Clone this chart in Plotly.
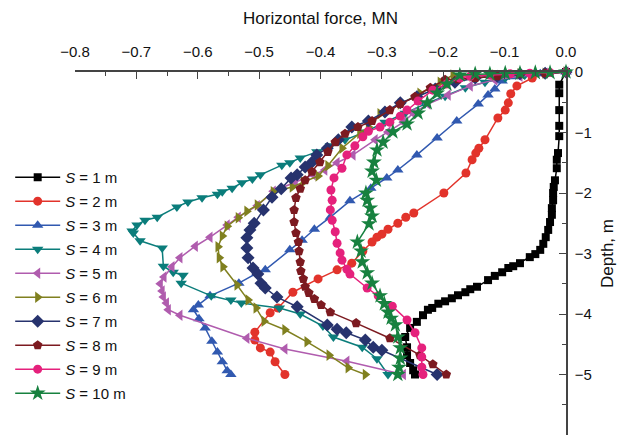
import plotly.graph_objects as go

# (horizontal force [MN], depth [m]) along the pile for each spacing S
S1 = [(0, 0), (-0.011, -0.21), (-0.011, -0.35), (-0.011, -0.63), (-0.011, -0.89), (-0.011, -1.06),
      (-0.013, -1.34), (-0.015, -1.45), (-0.015, -1.59), (-0.018, -1.79), (-0.020, -1.90), (-0.021, -2.00),
      (-0.021, -2.12), (-0.023, -2.25), (-0.023, -2.36), (-0.026, -2.48), (-0.029, -2.61), (-0.033, -2.73),
      (-0.037, -2.84), (-0.042, -2.94), (-0.050, -3.01), (-0.059, -3.06), (-0.075, -3.16), (-0.086, -3.21),
      (-0.094, -3.24), (-0.104, -3.31), (-0.116, -3.37), (-0.127, -3.44), (-0.145, -3.55), (-0.156, -3.59),
      (-0.164, -3.64), (-0.176, -3.69), (-0.186, -3.74), (-0.197, -3.79), (-0.208, -3.83), (-0.218, -3.90),
      (-0.225, -3.93), (-0.233, -4.02), (-0.243, -4.13), (-0.254, -4.23), (-0.262, -4.38), (-0.259, -4.55),
      (-0.259, -4.68), (-0.254, -4.81), (-0.249, -4.93), (-0.246, -5.00)]

S2 = [(0, 0), (-0.034, -0.03), (-0.055, -0.10), (-0.080, -0.23), (-0.090, -0.36), (-0.094, -0.51),
      (-0.099, -0.63), (-0.111, -0.76), (-0.132, -1.12), (-0.142, -1.26), (-0.147, -1.34), (-0.153, -1.45),
      (-0.163, -1.67), (-0.199, -2.00), (-0.248, -2.33), (-0.261, -2.40), (-0.274, -2.50), (-0.290, -2.60),
      (-0.300, -2.68), (-0.308, -2.73), (-0.316, -2.81), (-0.331, -2.96), (-0.349, -3.16), (-0.373, -3.27),
      (-0.404, -3.42), (-0.445, -3.64), (-0.469, -3.90), (-0.482, -3.98), (-0.507, -4.30), (-0.507, -4.43),
      (-0.498, -4.56), (-0.482, -4.63), (-0.474, -4.79), (-0.458, -5.00)]

S3 = [(0, 0), (-0.042, -0.03), (-0.083, -0.08), (-0.104, -0.15), (-0.116, -0.28), (-0.127, -0.38),
      (-0.143, -0.53), (-0.178, -0.81), (-0.210, -1.09), (-0.243, -1.37), (-0.274, -1.62), (-0.292, -1.75),
      (-0.318, -1.92), (-0.352, -2.13), (-0.384, -2.40), (-0.410, -2.60), (-0.430, -2.78), (-0.450, -2.94),
      (-0.490, -3.27), (-0.503, -3.32), (-0.533, -3.49), (-0.580, -3.70), (-0.599, -3.85), (-0.607, -3.93),
      (-0.598, -4.08), (-0.588, -4.23), (-0.577, -4.45), (-0.568, -4.63), (-0.560, -4.79), (-0.552, -4.94),
      (-0.546, -5.00)]

S4 = [(0, 0), (-0.034, -0.02), (-0.067, -0.05), (-0.099, -0.10), (-0.132, -0.17), (-0.164, -0.26),
      (-0.197, -0.40), (-0.230, -0.53), (-0.262, -0.68), (-0.295, -0.83), (-0.327, -0.99), (-0.360, -1.12),
      (-0.384, -1.22), (-0.406, -1.32), (-0.433, -1.42), (-0.450, -1.50), (-0.463, -1.54), (-0.498, -1.70),
      (-0.511, -1.77), (-0.528, -1.83), (-0.544, -1.92), (-0.560, -1.98), (-0.568, -2.02), (-0.593, -2.08),
      (-0.616, -2.15), (-0.634, -2.23), (-0.666, -2.40), (-0.686, -2.45), (-0.699, -2.53), (-0.707, -2.63),
      (-0.705, -2.66), (-0.694, -2.79), (-0.658, -2.91), (-0.656, -3.21), (-0.640, -3.31), (-0.624, -3.36),
      (-0.627, -3.49), (-0.578, -3.70), (-0.546, -3.77), (-0.529, -3.82), (-0.467, -3.90), (-0.433, -4.00),
      (-0.396, -4.20), (-0.379, -4.38), (-0.332, -4.55), (-0.308, -4.74), (-0.290, -5.00)]

S5 = [(0, 0), (-0.034, -0.02), (-0.075, -0.07), (-0.116, -0.13), (-0.156, -0.23), (-0.192, -0.38),
      (-0.225, -0.53), (-0.249, -0.68), (-0.265, -0.83), (-0.290, -0.99), (-0.311, -1.12), (-0.347, -1.37),
      (-0.373, -1.50), (-0.393, -1.62), (-0.412, -1.70), (-0.441, -1.82), (-0.477, -1.97), (-0.503, -2.21),
      (-0.534, -2.40), (-0.552, -2.53), (-0.580, -2.73), (-0.604, -2.88), (-0.629, -3.07), (-0.642, -3.22),
      (-0.655, -3.39), (-0.661, -3.50), (-0.658, -3.62), (-0.656, -3.72), (-0.651, -3.82), (-0.648, -3.93),
      (-0.629, -4.02), (-0.520, -4.40), (-0.458, -4.58), (-0.357, -4.78), (-0.265, -5.00)]

S6 = [(0, 0), (-0.034, -0.02), (-0.075, -0.03), (-0.116, -0.05), (-0.153, -0.07), (-0.184, -0.05),
      (-0.205, -0.17), (-0.238, -0.35), (-0.270, -0.53), (-0.303, -0.69), (-0.322, -0.91), (-0.336, -1.01),
      (-0.365, -1.26), (-0.388, -1.55), (-0.404, -1.72), (-0.428, -1.82), (-0.446, -1.90), (-0.477, -1.98),
      (-0.503, -2.20), (-0.520, -2.30), (-0.534, -2.41), (-0.552, -2.55), (-0.560, -2.71), (-0.567, -2.89),
      (-0.565, -3.07), (-0.559, -3.22), (-0.536, -3.52), (-0.518, -3.77), (-0.505, -3.90), (-0.492, -4.12),
      (-0.458, -4.26), (-0.422, -4.46), (-0.386, -4.68), (-0.355, -4.89), (-0.327, -5.00)]

S7 = [(0, 0), (-0.034, -0.02), (-0.075, -0.03), (-0.112, -0.07), (-0.148, -0.10), (-0.181, -0.17),
      (-0.213, -0.28), (-0.243, -0.41), (-0.270, -0.51), (-0.295, -0.66), (-0.322, -0.81), (-0.349, -0.91),
      (-0.371, -1.12), (-0.389, -1.26), (-0.406, -1.37), (-0.414, -1.49), (-0.425, -1.57), (-0.438, -1.70),
      (-0.448, -1.75), (-0.464, -1.93), (-0.479, -2.07), (-0.493, -2.28), (-0.508, -2.50), (-0.515, -2.61),
      (-0.520, -2.74), (-0.520, -2.91), (-0.518, -3.07), (-0.510, -3.24), (-0.502, -3.34), (-0.497, -3.49),
      (-0.490, -3.57), (-0.471, -3.72), (-0.438, -3.88), (-0.389, -4.18), (-0.373, -4.25), (-0.358, -4.31),
      (-0.327, -4.43), (-0.314, -4.55), (-0.300, -4.60), (-0.210, -5.00)]

S8 = [(0, 0), (-0.034, -0.02), (-0.075, -0.03), (-0.112, -0.07), (-0.148, -0.10), (-0.176, -0.12),
      (-0.197, -0.13), (-0.221, -0.26), (-0.246, -0.41), (-0.270, -0.53), (-0.287, -0.63), (-0.316, -0.81),
      (-0.339, -0.91), (-0.360, -1.02), (-0.376, -1.16), (-0.388, -1.32), (-0.401, -1.49), (-0.414, -1.65),
      (-0.425, -1.79), (-0.433, -1.93), (-0.440, -2.08), (-0.443, -2.28), (-0.443, -2.48), (-0.440, -2.66),
      (-0.436, -2.81), (-0.435, -2.96), (-0.433, -3.14), (-0.432, -3.29), (-0.428, -3.42), (-0.425, -3.55),
      (-0.419, -3.65), (-0.410, -3.75), (-0.399, -3.85), (-0.384, -3.97), (-0.342, -4.15), (-0.287, -4.40),
      (-0.238, -4.68), (-0.217, -4.83), (-0.195, -5.00)]

S9 = [(0, 0), (-0.026, -0.01), (-0.059, -0.02), (-0.091, -0.03), (-0.124, -0.05), (-0.156, -0.07),
      (-0.173, -0.10), (-0.195, -0.20), (-0.217, -0.30), (-0.241, -0.48), (-0.259, -0.63), (-0.270, -0.73),
      (-0.287, -0.83), (-0.303, -0.91), (-0.322, -0.98), (-0.331, -1.07), (-0.344, -1.22), (-0.357, -1.37),
      (-0.365, -1.59), (-0.378, -1.75), (-0.383, -1.95), (-0.381, -2.12), (-0.384, -2.28), (-0.381, -2.45),
      (-0.376, -2.64), (-0.373, -2.83), (-0.368, -2.99), (-0.365, -3.11), (-0.357, -3.26), (-0.352, -3.34),
      (-0.324, -3.57), (-0.306, -3.70), (-0.283, -3.87), (-0.259, -4.10), (-0.246, -4.31), (-0.235, -4.56),
      (-0.235, -4.71), (-0.235, -4.88), (-0.233, -5.00)]

S10 = [(0, 0), (-0.026, -0.01), (-0.050, -0.01), (-0.075, -0.02), (-0.099, -0.02), (-0.124, -0.03),
       (-0.148, -0.03), (-0.173, -0.05), (-0.194, -0.20), (-0.210, -0.35), (-0.226, -0.51), (-0.241, -0.68),
       (-0.259, -0.86), (-0.282, -0.99), (-0.298, -1.16), (-0.308, -1.29), (-0.313, -1.49), (-0.316, -1.64),
       (-0.309, -1.79), (-0.326, -2.00), (-0.324, -2.12), (-0.319, -2.25), (-0.316, -2.38), (-0.321, -2.51),
       (-0.340, -2.81), (-0.334, -2.96), (-0.332, -3.14), (-0.324, -3.32), (-0.316, -3.49), (-0.303, -3.70),
       (-0.296, -3.83), (-0.290, -3.97), (-0.285, -4.07), (-0.278, -4.18), (-0.274, -4.38), (-0.270, -4.56),
       (-0.270, -4.73), (-0.272, -4.88), (-0.274, -5.00)]

SERIES = [S1, S2, S3, S4, S5, S6, S7, S8, S9, S10]
SPACINGS = [1, 2, 3, 4, 5, 6, 7, 8, 9, 10]
COLORS = ["#000000", "#e2332b", "#3159b0", "#0b7d7b", "#b05cae",
          "#80801f", "#27336e", "#7c1a20", "#e5217c", "#17813f"]
SYMBOLS = ["square", "circle", "triangle-up", "triangle-down", "triangle-left",
           "triangle-right", "diamond", "pentagon", "circle", "star"]
SIZES = [8, 9, 10, 10, 10, 10, 10, 10, 9, 12]

FONT = "Liberation Sans, Arial, sans-serif"

fig = go.Figure()
for pts, s, col, sym, size in zip(SERIES, SPACINGS, COLORS, SYMBOLS, SIZES):
    fig.add_trace(go.Scatter(
        x=[p[0] for p in pts],
        y=[p[1] for p in pts],
        mode="lines+markers",
        name=f"<i>S</i> = {s} m",
        legendgroup=f"S{s}",
        line=dict(color=col, width=1.5),
        marker=dict(symbol=sym, size=size, color=col, line=dict(width=0)),
        cliponaxis=False,
    ))

fig.update_layout(
    width=630, height=441,
    margin=dict(l=75, r=64, t=72, b=6, autoexpand=False),
    paper_bgcolor="white",
    plot_bgcolor="white",
    font=dict(family=FONT, size=14, color="#111111"),
    showlegend=True,
    legend=dict(
        x=-0.132, y=0.755, xanchor="left", yanchor="top",
        traceorder="grouped", tracegroupgap=1.5,
        itemwidth=45,
        font=dict(family=FONT, size=15, color="#111111"),
        bgcolor="rgba(0,0,0,0)",
    ),
    xaxis=dict(
        side="top",
        range=[-0.8, 0.0],
        dtick=0.1, tick0=0,
        tickformat=".1f",
        ticks="inside", ticklen=7, tickwidth=1.2, tickcolor="#444444",
        minor=dict(dtick=0.05, ticks="inside", ticklen=4, tickwidth=1.2, tickcolor="#444444"),
        showline=True, linecolor="#444444", linewidth=1.5,
        showgrid=False, zeroline=False,
        tickfont=dict(size=15),
        ticklabelstandoff=7,
        title=dict(text="Horizontal force, MN", font=dict(size=17), standoff=14),
    ),
    yaxis=dict(
        side="right",
        range=[-6, 0],
        dtick=1, tick0=0,
        ticks="inside", ticklen=7, tickwidth=1.2, tickcolor="#444444",
        minor=dict(dtick=0.5, ticks="inside", ticklen=4, tickwidth=1.2, tickcolor="#444444"),
        showline=True, linecolor="#444444", linewidth=1.5,
        showgrid=False, zeroline=False,
        tickfont=dict(size=15),
        ticklabelstandoff=4,
        title=dict(text="Depth, m", font=dict(size=17), standoff=10),
    ),
)

fig.write_html("out.html")
